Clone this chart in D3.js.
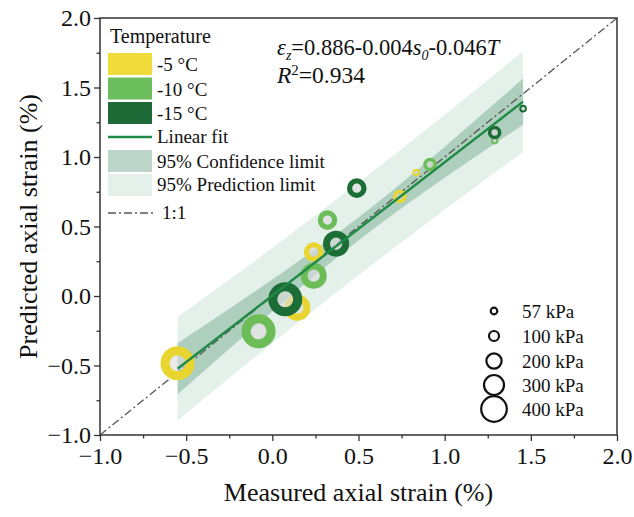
<!DOCTYPE html>
<html>
<head>
<meta charset="utf-8">
<script src="https://cdn.jsdelivr.net/npm/d3@7"></script>
<style>
  html, body { margin: 0; padding: 0; background: #fff; }
  svg { display: block; }
  text { font-family: "Liberation Serif", "Times New Roman", serif; fill: #111; }
</style>
</head>
<body>
<svg id="chart" width="634" height="517"></svg>
<script>
// ---- data -------------------------------------------------------------
const temperatures = ["-5 °C", "-10 °C", "-15 °C"];
const pressures = [57, 100, 200, 300, 400];           // confining pressure, kPa
const pressureLabels = ["57 kPa", "100 kPa", "200 kPa", "300 kPa", "400 kPa"];

// measured vs predicted axial strain (%), one entry per confining pressure
const measuredM5   = [0.835, 0.74, 0.24, 0.145, -0.55];
const predictedM5  = [0.888, 0.716, 0.316, -0.084, -0.484];
const measuredM10  = [1.29, 0.915, 0.32, 0.24, -0.08];
const predictedM10 = [1.118, 0.946, 0.546, 0.146, -0.254];
const measuredM15  = [1.455, 1.29, 0.49, 0.37, 0.075];
const predictedM15 = [1.348, 1.176, 0.776, 0.376, -0.024];

const axisTicks = [-1.0, -0.5, 0.0, 0.5, 1.0, 1.5, 2.0];
const minorTicks = [-0.75, -0.25, 0.25, 0.75, 1.25, 1.75];
const tCrit = 2.160;  // Student t, 97.5 %, 13 degrees of freedom

// ---- setup -------------------------------------------------------------
const svg = d3.select("#chart");
const L = 100, R = 617, T = 18, B = 435;
const x = d3.scaleLinear().domain([-1, 2]).range([L, R]);
const y = d3.scaleLinear().domain([-1, 2]).range([B, T]);

const tempColor = d3.scaleOrdinal().domain(temperatures)
  .range(["#e8d530", "#6cbd58", "#1d6d36"]);
const swatchColor = d3.scaleOrdinal().domain(temperatures)
  .range(["#efdb3a", "#6dbe5c", "#1e6b37"]);
const ringRadius = d3.scaleOrdinal().domain(pressures).range([2.8, 5, 7.2, 9.6, 12.5]);

const series = [
  { t: temperatures[0], m: measuredM5,  p: predictedM5 },
  { t: temperatures[1], m: measuredM10, p: predictedM10 },
  { t: temperatures[2], m: measuredM15, p: predictedM15 }
];
const points = [];
series.forEach(s => s.m.forEach((mv, i) =>
  points.push({ t: s.t, s0: pressures[i], mx: mv, py: s.p[i] })));

// ---- linear regression with confidence / prediction bands ---------------
const n = points.length;
const mx = d3.mean(points, d => d.mx), my = d3.mean(points, d => d.py);
const sxx = d3.sum(points, d => (d.mx - mx) ** 2);
const sxy = d3.sum(points, d => (d.mx - mx) * (d.py - my));
const slope = sxy / sxx, intercept = my - slope * mx;
const sse = d3.sum(points, d => (d.py - (intercept + slope * d.mx)) ** 2);
const se = Math.sqrt(sse / (n - 2));
const [xmin, xmax] = d3.extent(points, d => d.mx);
const bandX = d3.range(0, 61).map(i => xmin + (xmax - xmin) * i / 60);
const band = bandX.map(v => {
  const fit = intercept + slope * v;
  const k = 1 / n + (v - mx) ** 2 / sxx;
  return { v, fit, ci: tCrit * se * Math.sqrt(k), pi: tCrit * se * Math.sqrt(1 + k) };
});

svg.append("defs").append("clipPath").attr("id", "plot-clip")
  .append("rect").attr("x", L).attr("y", T).attr("width", R - L).attr("height", B - T);
const plot = svg.append("g").attr("clip-path", "url(#plot-clip)");

const predColor = "rgb(30,140,82)", confColor = "rgb(50,125,88)";
plot.append("path").datum(band)
  .attr("d", d3.area().x(d => x(d.v)).y0(d => y(d.fit - d.pi)).y1(d => y(d.fit + d.pi)))
  .attr("fill", predColor).attr("fill-opacity", 0.12);
plot.append("path").datum(band)
  .attr("d", d3.area().x(d => x(d.v)).y0(d => y(d.fit - d.ci)).y1(d => y(d.fit + d.ci)))
  .attr("fill", confColor).attr("fill-opacity", 0.3);

// 1:1 reference line
plot.append("line")
  .attr("x1", x(-1)).attr("y1", y(-1)).attr("x2", x(2)).attr("y2", y(2))
  .attr("stroke", "#555").attr("stroke-width", 1.3).attr("stroke-dasharray", "8,3,2,3");

// rings
plot.append("g").selectAll("circle").data(points).join("circle")
  .attr("cx", d => x(d.mx)).attr("cy", d => y(d.py))
  .attr("r", d => ringRadius(d.s0))
  .attr("fill", "#dcdcdc").attr("fill-opacity", 0.6)
  .attr("stroke", d => tempColor(d.t))
  .attr("stroke-width", d => ringRadius(d.s0) * 0.72);

// fitted line
plot.append("line")
  .attr("x1", x(xmin)).attr("y1", y(intercept + slope * xmin))
  .attr("x2", x(xmax)).attr("y2", y(intercept + slope * xmax))
  .attr("stroke", "#1f8a45").attr("stroke-width", 2.4);

// ---- axes ----------------------------------------------------------------
const fmt = d3.format(".1f");
function styleAxis(g) {
  g.select(".domain").remove();
  g.selectAll(".tick line").attr("stroke", "#333").attr("stroke-width", 1.3);
  g.selectAll(".tick text").style("font-size", "24px")
    .style("font-family", "'Liberation Serif', 'Times New Roman', serif").attr("fill", "#111");
}
svg.append("g").attr("transform", `translate(0,${B})`)
  .call(d3.axisBottom(x).tickValues(axisTicks).tickFormat(fmt).tickSize(6).tickPadding(6))
  .call(styleAxis);
svg.append("g").attr("transform", `translate(0,${B})`)
  .call(d3.axisBottom(x).tickValues(minorTicks).tickFormat("").tickSize(3.5))
  .call(styleAxis);
svg.append("g").attr("transform", `translate(${L},0)`)
  .call(d3.axisLeft(y).tickValues(axisTicks).tickFormat(fmt).tickSize(6).tickPadding(3))
  .call(styleAxis);
svg.append("g").attr("transform", `translate(${L},0)`)
  .call(d3.axisLeft(y).tickValues(minorTicks).tickFormat("").tickSize(3.5))
  .call(styleAxis);

svg.append("rect").attr("x", L).attr("y", T).attr("width", R - L).attr("height", B - T)
  .attr("fill", "none").attr("stroke", "#333").attr("stroke-width", 1.5);

svg.append("text").attr("x", (L + R) / 2).attr("y", 501).attr("text-anchor", "middle")
  .style("font-size", "26px").text("Measured axial strain (%)");
svg.append("text").attr("transform", `translate(37,${(T + B) / 2}) rotate(-90)`)
  .attr("text-anchor", "middle").style("font-size", "26px").text("Predicted axial strain (%)");

// ---- regression equation -------------------------------------------------
const eq = svg.append("text").attr("x", 277).attr("y", 55).style("font-size", "22.5px");
eq.append("tspan").attr("font-style", "italic").text("ε");
eq.append("tspan").attr("font-style", "italic").style("font-size", "14px").attr("dy", 5).text("z");
eq.append("tspan").attr("dy", -5).text("=0.886-0.004");
eq.append("tspan").attr("font-style", "italic").text("s");
eq.append("tspan").attr("font-style", "italic").style("font-size", "14px").attr("dy", 5).text("0");
eq.append("tspan").attr("dy", -5).text("-0.046");
eq.append("tspan").attr("font-style", "italic").text("T");
const r2 = svg.append("text").attr("x", 277).attr("y", 83).style("font-size", "23.5px");
r2.append("tspan").attr("font-style", "italic").text("R");
r2.append("tspan").style("font-size", "15px").attr("dy", -8).text("2");
r2.append("tspan").attr("dy", 8).text("=0.934");

// ---- temperature / fit legend ---------------------------------------------
const lg = svg.append("g").style("font-size", "19px");
lg.append("text").attr("x", 110).attr("y", 43).style("font-size", "20px").text("Temperature");
const swY = [53, 77.5, 102];
temperatures.forEach((t, i) => {
  lg.append("rect").attr("x", 108).attr("y", swY[i]).attr("width", 44).attr("height", 22)
    .attr("fill", swatchColor(t));
  lg.append("text").attr("x", 157).attr("y", swY[i] + 18).text(t);
});
lg.append("line").attr("x1", 108).attr("x2", 152).attr("y1", 137).attr("y2", 137)
  .attr("stroke", "#1f8a45").attr("stroke-width", 2.4);
lg.append("text").attr("x", 157).attr("y", 143).text("Linear fit");
lg.append("rect").attr("x", 108).attr("y", 150).attr("width", 44).attr("height", 22)
  .attr("fill", confColor).attr("fill-opacity", 0.32);
lg.append("text").attr("x", 157).attr("y", 168).text("95% Confidence limit");
lg.append("rect").attr("x", 108).attr("y", 174).attr("width", 44).attr("height", 22)
  .attr("fill", predColor).attr("fill-opacity", 0.12);
lg.append("text").attr("x", 157).attr("y", 191).text("95% Prediction limit");
lg.append("line").attr("x1", 108).attr("x2", 156).attr("y1", 213).attr("y2", 213)
  .attr("stroke", "#555").attr("stroke-width", 1.3).attr("stroke-dasharray", "8,3,2,3");
lg.append("text").attr("x", 162).attr("y", 219).text("1:1");

// ---- pressure legend -------------------------------------------------------
const legendR = d3.scaleOrdinal().domain(pressures).range([3.3, 5, 7.6, 10, 12.8]);
const sizeY = [311, 336, 361, 385, 409];
pressures.forEach((p, i) => {
  svg.append("circle").attr("cx", 494).attr("cy", sizeY[i]).attr("r", legendR(p))
    .attr("fill", "none").attr("stroke", "#111").attr("stroke-width", 2.2);
  svg.append("text").attr("x", 522).attr("y", sizeY[i] + 6.5).style("font-size", "19px")
    .text(pressureLabels[i]);
});
</script>
</body>
</html>
